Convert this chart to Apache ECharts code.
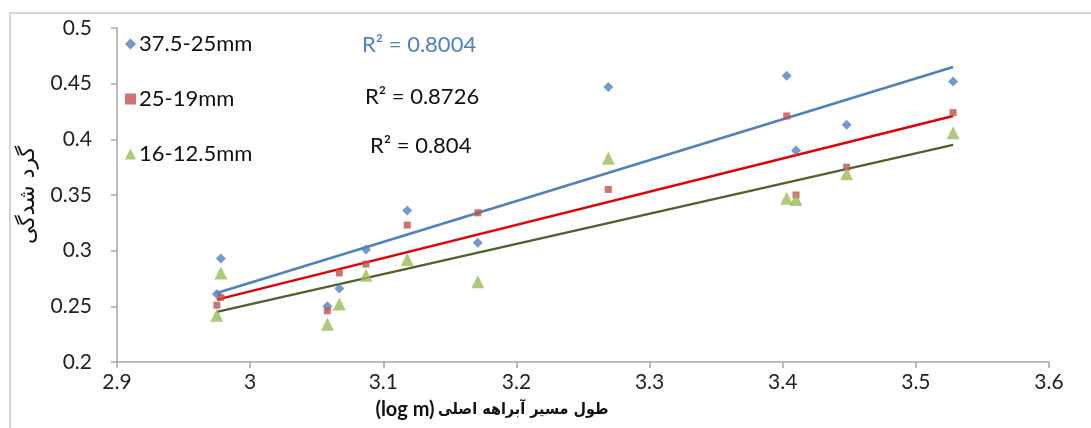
<!DOCTYPE html>
<html><head><meta charset="utf-8">
<script src="https://cdn.jsdelivr.net/npm/echarts@6/dist/echarts.min.js"></script>
<style>html,body{margin:0;padding:0;background:#fff}#c{width:1091px;height:428px}</style>
</head><body><div id="c"></div>
<script>
const seriesNames = ['37.5-25mm', '25-19mm', '16-12.5mm'];
const xValues = [2.975, 2.978, 3.058, 3.067, 3.087, 3.118, 3.171, 3.269, 3.403, 3.410, 3.448, 3.528];
const blueValues  = [0.261, 0.293, 0.250, 0.266, 0.301, 0.336, 0.307, 0.447, 0.457, 0.390, 0.413, 0.452];
const redValues   = [0.251, 0.258, 0.246, 0.280, 0.288, 0.323, 0.334, 0.355, 0.421, 0.350, 0.375, 0.424];
const greenValues = [0.242, 0.280, 0.234, 0.252, 0.278, 0.292, 0.272, 0.383, 0.347, 0.346, 0.369, 0.406];
const trendX = [2.975, 3.528];
const blueTrend = [0.262, 0.465];
const redTrend = [0.256, 0.421];
const greenTrend = [0.245, 0.395];
const r2Labels = ['R² = 0.8004', 'R² = 0.8726', 'R² = 0.804'];
const xTicks = [2.9, 3.6, 0.1];
const yTicks = [0.2, 0.5, 0.05];
const yTitle = 'گرد شدگی';
const xTitleUnit = '(log m)';
const xTitleText = 'طول مسیر آبراهه اصلی';

const colors = ['#4F81BD', '#C0504D', '#9BBB59'];
const lineColors = ['#4F81BD', '#E00000', '#4F6228'];
const symbols = ['diamond', 'rect', 'triangle'];
const sizes = [10, 7, 13];
const vals = [blueValues, redValues, greenValues];
const trends = [blueTrend, redTrend, greenTrend];

const series = [];
for (let i = 0; i < 3; i++) {
  series.push({
    name: seriesNames[i], type: 'scatter', symbol: symbols[i], symbolSize: sizes[i],
    itemStyle: {color: colors[i]}, z: 3,
    data: xValues.map((x, j) => [x, vals[i][j]])
  });
}
for (let i = 0; i < 3; i++) {
  series.push({
    name: 'trend' + i, type: 'line', showSymbol: false, symbol: 'none', silent: true,
    lineStyle: {color: lineColors[i], width: 2.5}, z: 2,
    data: trendX.map((x, j) => [x, trends[i][j]])
  });
}

const chart = echarts.init(document.getElementById('c'), null, {renderer: 'canvas'});
const font = 'Lato, "Open Sans", "DejaVu Sans", sans-serif';
chart.setOption({
  animation: false,
  backgroundColor: '#fff',
  grid: {left: 117, right: 42, top: 28, bottom: 66},
  xAxis: {
    type: 'value', min: xTicks[0], max: xTicks[1], interval: xTicks[2],
    axisLine: {show: true, lineStyle: {color: '#a6a6a6', width: 1.5}},
    axisTick: {show: true, length: 6, lineStyle: {color: '#a6a6a6', width: 1.5}},
    splitLine: {show: false},
    axisLabel: {color: '#222', fontSize: 21, fontFamily: font, margin: 10,
      formatter: v => String(Math.round(v * 10) / 10)}
  },
  yAxis: {
    type: 'value', min: yTicks[0], max: yTicks[1], interval: yTicks[2],
    name: yTitle, nameLocation: 'middle', nameGap: 76, nameRotate: 90,
    nameTextStyle: {color: '#111', fontSize: 22, fontFamily: '"DejaVu Sans", sans-serif'},
    axisLine: {show: true, lineStyle: {color: '#a6a6a6', width: 1.5}},
    axisTick: {show: true, length: 6, lineStyle: {color: '#a6a6a6', width: 1.5}},
    splitLine: {show: false},
    axisLabel: {color: '#222', fontSize: 21, fontFamily: font, margin: 25,
      formatter: v => String(Math.round(v * 100) / 100)}
  },
  legend: {
    orient: 'vertical', left: 120, top: 28, itemGap: 33, itemWidth: 11, itemHeight: 11,
    textStyle: {color: '#111', fontSize: 22, fontFamily: font, padding: [0, 0, 0, -2]},
    data: seriesNames.map((n, i) => ({name: n, icon: symbols[i]}))
  },
  graphic: [
    {type: 'rect', shape: {x: 10, y: 13, width: 1200, height: 500}, style: {fill: 'none', stroke: '#c8c8c8', lineWidth: 1.5}, z: -1},
    {type: 'text', x: 362, y: 45, style: {text: r2Labels[0], fill: '#4F81BD', fontSize: 22, fontFamily: font, verticalAlign: 'middle'}},
    {type: 'text', x: 365, y: 97, style: {text: r2Labels[1], fill: '#111', fontSize: 22, fontFamily: font, verticalAlign: 'middle'}},
    {type: 'text', x: 370, y: 146, style: {text: r2Labels[2], fill: '#111', fontSize: 22, fontFamily: font, verticalAlign: 'middle'}},
    {type: 'text', x: 492, y: 410, style: {
      text: '{a|' + xTitleUnit + '} {b|' + xTitleText + '}',
      align: 'center', verticalAlign: 'middle', fill: '#111',
      rich: {
        a: {fontSize: 20, fontWeight: 'bold', fontFamily: 'Lato, sans-serif', fill: '#111', color: '#111'},
        b: {fontSize: 16, fontWeight: 'bold', fontFamily: '"DejaVu Sans Condensed", "DejaVu Sans", sans-serif', fill: '#111', color: '#111'}
      }
    }}
  ],
  series: series
});
</script></body></html>
